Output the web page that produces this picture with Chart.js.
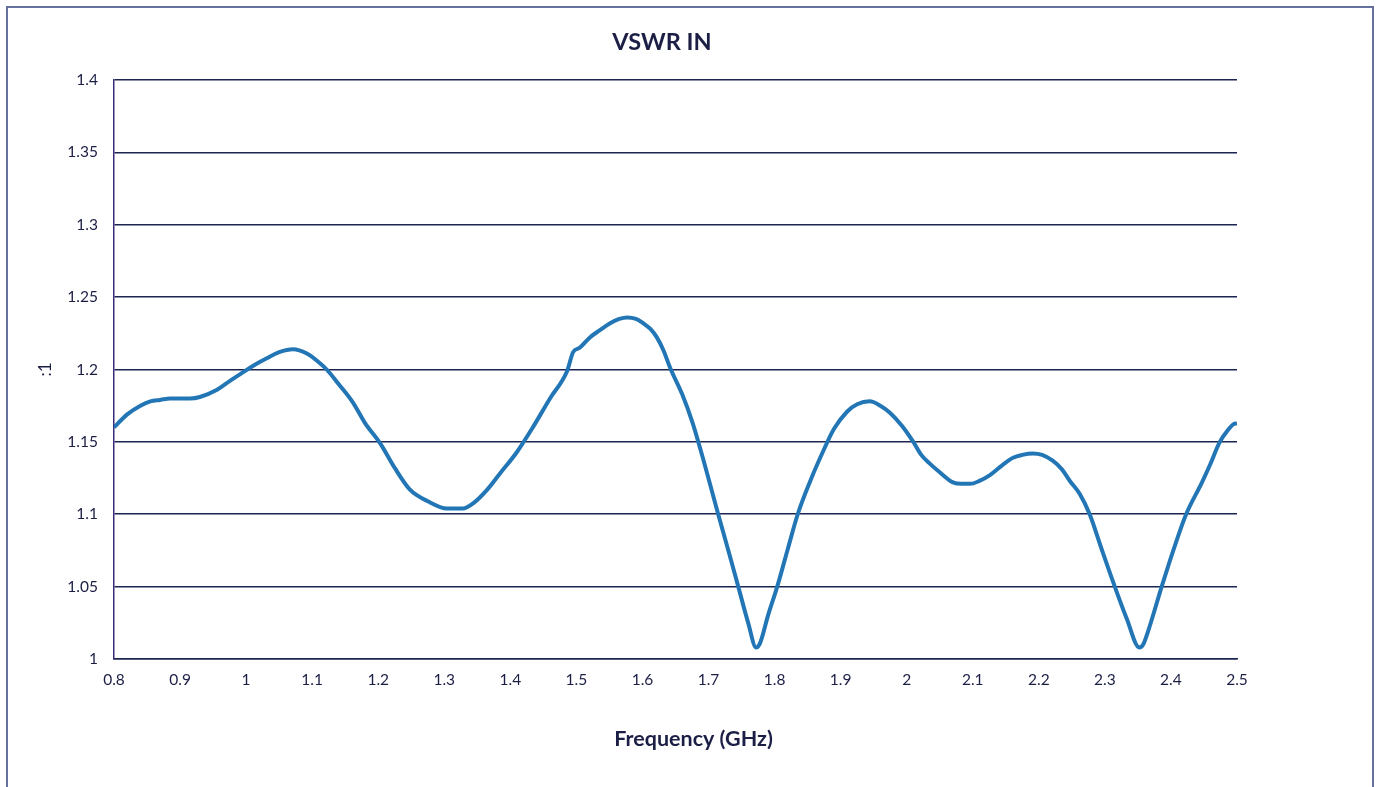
<!DOCTYPE html>
<html>
<head>
<meta charset="utf-8">
<script src="https://cdn.jsdelivr.net/npm/chart.js@4/dist/chart.umd.min.js"></script>
<style>
  html, body { margin: 0; padding: 0; background: #ffffff; }
  #wrap { position: relative; width: 1380px; height: 787px; overflow: hidden; }
  #frame { position: absolute; left: 6px; top: 6px; width: 1368px; height: 800px; border: 2px solid #65709e; box-sizing: border-box; }
  canvas { position: absolute; left: 0; top: 0; }
</style>
</head>
<body>
<div id="wrap">
  <div id="frame"></div>
  <canvas id="c" width="1380" height="787"></canvas>
</div>
<script>
const chartTitle = "VSWR IN";
const xAxisTitle = "Frequency (GHz)";
const yAxisTitle = ":1";

const freqs = [0.80,0.82,0.84,0.855,0.87,0.885,0.90,0.915,0.93,0.956,0.975,0.995,1.012,1.032,1.05,1.071,1.092,1.11,1.122,1.14,1.162,1.18,1.203,1.225,1.248,1.275,1.304,1.328,1.345,1.365,1.384,1.41,1.434,1.46,1.486,1.495,1.505,1.52,1.535,1.551,1.565,1.577,1.59,1.601,1.612,1.622,1.632,1.642,1.66,1.676,1.695,1.714,1.73,1.745,1.76,1.772,1.778,1.79,1.804,1.82,1.835,1.854,1.873,1.89,1.91,1.925,1.944,1.96,1.975,1.993,2.010,2.022,2.035,2.05,2.07,2.083,2.096,2.11,2.126,2.145,2.161,2.175,2.191,2.205,2.221,2.235,2.247,2.262,2.277,2.295,2.315,2.333,2.352,2.358,2.366,2.386,2.405,2.423,2.447,2.459,2.474,2.486,2.494,2.50];
const vswr = [1.160,1.169,1.175,1.178,1.179,1.180,1.180,1.180,1.181,1.186,1.192,1.198,1.203,1.208,1.212,1.214,1.211,1.205,1.200,1.190,1.177,1.163,1.149,1.132,1.117,1.109,1.104,1.104,1.108,1.117,1.128,1.143,1.160,1.180,1.199,1.212,1.215,1.222,1.227,1.232,1.235,1.236,1.235,1.232,1.228,1.222,1.213,1.201,1.183,1.163,1.133,1.101,1.075,1.050,1.025,1.008,1.011,1.030,1.050,1.076,1.100,1.123,1.143,1.159,1.171,1.176,1.178,1.175,1.170,1.161,1.150,1.141,1.135,1.129,1.122,1.121,1.121,1.123,1.127,1.134,1.139,1.141,1.142,1.141,1.137,1.131,1.123,1.114,1.100,1.076,1.050,1.028,1.008,1.010,1.020,1.050,1.077,1.100,1.122,1.134,1.150,1.158,1.162,1.163];

const xMin = 0.8, xMax = 2.5, xStep = 0.1;
const yMin = 1.0, yMax = 1.4, yStep = 0.05;

const points = freqs.map((f, i) => ({ x: f, y: vswr[i] }));
const textColor = "#1c1f45";
const fontFam = "Lato, 'Open Sans', sans-serif";

// chart title and x-axis title, placed as in the reference (slightly off the plot centre)
const titlesPlugin = {
  id: 'titlesPlugin',
  afterDraw(chart) {
    const ctx = chart.ctx;
    const xs = chart.scales.x;
    const mid = (xs.left + xs.right) / 2;
    ctx.save();
    ctx.fillStyle = textColor;
    ctx.textAlign = 'center';
    ctx.textBaseline = 'middle';
    ctx.font = "bold 23.5px " + fontFam;
    ctx.fillText(chartTitle, mid - 13.5, chart.chartArea.top - 38);
    ctx.font = "bold 21.5px " + fontFam;
    ctx.fillText(xAxisTitle, mid + 18, xs.bottom - 48);
    ctx.restore();
  }
};

new Chart(document.getElementById('c'), {
  type: 'line',
  data: {
    datasets: [{
      data: points,
      borderColor: '#2376b5',
      borderWidth: 4,
      pointRadius: 0,
      fill: false,
      cubicInterpolationMode: 'monotone'
    }]
  },
  plugins: [titlesPlugin],
  options: {
    responsive: false,
    animation: false,
    devicePixelRatio: 1,
    layout: { padding: { left: 20, right: 143, top: 80, bottom: 0 } },
    plugins: {
      legend: { display: false },
      tooltip: { enabled: false },
      title: { display: false }
    },
    scales: {
      x: {
        type: 'linear',
        min: xMin, max: xMax,
        afterFit: s => { s.height = 128; },
        ticks: {
          stepSize: xStep,
          color: textColor,
          padding: 12,
          maxRotation: 0,
          autoSkip: false,
          font: { family: fontFam, size: 15.5 },
          callback: v => String(Number(v.toFixed(1)))
        },
        grid: { display: false, drawTicks: false },
        border: { display: true, color: '#1c2550', width: 1.5 },
        title: { display: false }
      },
      y: {
        type: 'linear',
        min: yMin, max: yMax,
        afterFit: s => { s.width = 94; },
        ticks: {
          stepSize: yStep,
          color: textColor,
          padding: 16,
          font: { family: fontFam, size: 15.5 },
          callback: v => String(Number(v.toFixed(2)))
        },
        grid: { display: true, drawTicks: false, color: '#1c2550', lineWidth: 1.5 },
        border: { display: true, color: '#3a2c78', width: 1.5 },
        title: {
          display: true,
          text: yAxisTitle,
          color: textColor,
          font: { family: fontFam, size: 17, weight: 'normal' },
          padding: { top: 15, bottom: 0 }
        }
      }
    }
  }
});
</script>
</body>
</html>
